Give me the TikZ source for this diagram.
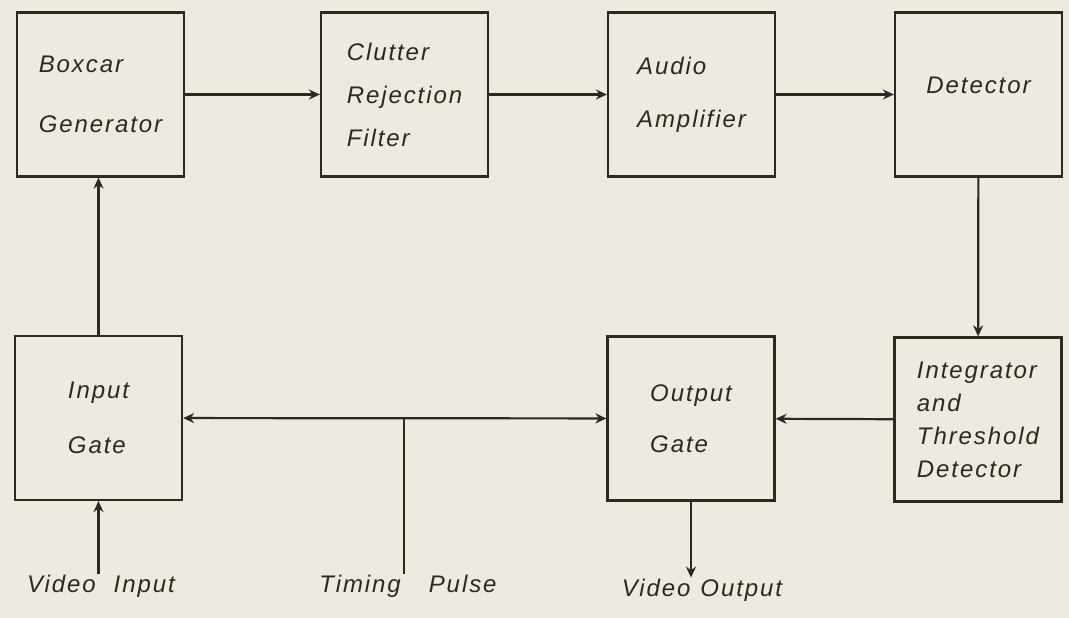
\documentclass[tikz,border=0pt]{standalone}
\usepackage{fontspec}
\usetikzlibrary{arrows.meta}
\newfontfamily\hand[LetterSpace=8]{Liberation Sans}
\definecolor{paper}{RGB}{236,235,222}
\definecolor{ink}{RGB}{45,40,36}
\tikzset{
  blk/.style={draw=ink,line width=2.2pt,minimum width=167pt,minimum height=164pt,
    align=left,text=ink,font=\hand\itshape\fontsize{24}{30}\selectfont},
  lbl/.style={text=ink,inner sep=1pt,font=\hand\itshape\fontsize{24}{30}\selectfont},
  wire/.style={draw=ink,line width=2.2pt}
}
\begin{document}
\begin{tikzpicture}[x=1pt,y=-1pt,>={Stealth[length=11pt,width=10pt]}]
  \fill[paper] (0,0) rectangle (1069,618);
  \node[blk] (boxcar) at (100.5,94.5) {Boxcar\\[30pt]Generator};
  \node[blk] (clutter) at (404.5,94.5) {Clutter\\[13pt]Rejection\\[13pt]Filter};
  \node[blk] (audio) at (691.5,94.5) {Audio\\[23pt]Amplifier};
  \node[blk] (det) at (978.5,94.5) {Detector\\[-12pt]};
  \node[blk] (ingate) at (98.5,418) {Input\\[25pt]Gate};
  \node[blk] (outgate) at (691,418.5) {Output\\[21pt]Gate};
  \node[blk] (integ) at (978,419.5) {Integrator\\[3pt]and\\[3pt]Threshold\\[3pt]Detector};
  \node[lbl] (vin) at (101,586) {Video\hspace{18pt}Input};
  \node[lbl] (tp) at (408,586) {Timing\hspace{28pt}Pulse};
  \node[lbl] (vout) at (702,590) {Video\hspace{10pt}Output};
  \coordinate (tj) at (404,418);
  \draw[wire,->] (boxcar) -- (clutter);
  \draw[wire,->] (clutter) -- (audio);
  \draw[wire,->] (audio) -- (det);
  \draw[wire,->] (det) -- (integ);
  \draw[wire,->] (integ) -- (outgate);
  \draw[wire,<->] (ingate) -- (outgate);
  \draw[wire] (tp.north -| tj) -- (tj);
  \draw[wire,->] (ingate.north) -- (ingate.north |- boxcar.south);
  \draw[wire,->] (vin.north -| ingate.south) -- (ingate.south);
  \draw[wire,->] (outgate.south) -- (outgate.south |- vout.north);
\end{tikzpicture}
\end{document}
